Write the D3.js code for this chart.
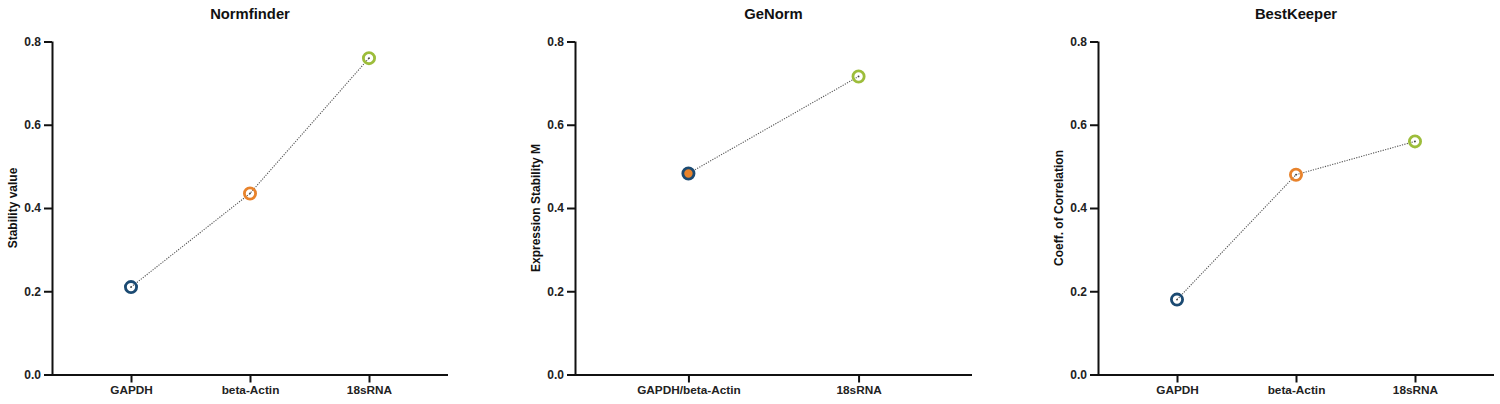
<!DOCTYPE html>
<html><head><meta charset="utf-8">
<script src="https://cdn.jsdelivr.net/npm/d3@7"></script>
<style>
body{margin:0;background:#fff;}
svg{display:block;font-family:"Liberation Sans",Arial,Helvetica,sans-serif;}
</style></head>
<body><svg id="c" width="1500" height="404"></svg>
<script>
// Data
const normfinderCats = ["GAPDH", "beta-Actin", "18sRNA"];
const normfinderVals = [0.21, 0.435, 0.76];
const genormCats = ["GAPDH/beta-Actin", "18sRNA"];
const genormVals = [0.483, 0.716];
const bestkeeperCats = ["GAPDH", "beta-Actin", "18sRNA"];
const bestkeeperVals = [0.18, 0.48, 0.56];
const yTicks = [0.0, 0.2, 0.4, 0.6, 0.8];
const titles = ["Normfinder", "GeNorm", "BestKeeper"];
const yLabels = ["Stability value", "Expression Stability M", "Coeff. of Correlation"];

const NAVY = "#1b4a72", ORANGE = "#e8832c", GREEN = "#9dbd3b";

const panels = [
  {title: titles[0], ylab: yLabels[0], cats: normfinderCats, vals: normfinderVals,
   x0: 52, x1: 448, labX: 13,
   markers: [{stroke: NAVY, fill: "#fff"}, {stroke: ORANGE, fill: "#fff"}, {stroke: GREEN, fill: "#fff"}]},
  {title: titles[1], ylab: yLabels[1], cats: genormCats, vals: genormVals,
   x0: 575, x1: 972, labX: 536,
   markers: [{stroke: NAVY, fill: ORANGE}, {stroke: GREEN, fill: "#fff"}]},
  {title: titles[2], ylab: yLabels[2], cats: bestkeeperCats, vals: bestkeeperVals,
   x0: 1098, x1: 1494, labX: 1059,
   markers: [{stroke: NAVY, fill: "#fff"}, {stroke: ORANGE, fill: "#fff"}, {stroke: GREEN, fill: "#fff"}]}
];

const svg = d3.select("#c");
const yTop = 41.5, yBot = 374.5;

panels.forEach(p => {
  const g = svg.append("g");
  const y = d3.scaleLinear().domain([0, 0.8]).range([yBot, yTop]);
  const n = p.cats.length;
  const x = d3.scalePoint().domain(p.cats).range([p.x0, p.x1]).padding(n === 3 ? 0.6639 : 0.6667);

  // y axis
  const ya = g.append("g").attr("transform", `translate(${p.x0},0)`)
    .call(d3.axisLeft(y).tickValues(yTicks).tickFormat(d3.format(".1f")).tickSize(8).tickPadding(3));
  ya.select(".domain").attr("stroke", "#111").attr("stroke-width", 2)
    .attr("d", `M0.5,${yTop}V${yBot}`);
  ya.selectAll(".tick line").attr("stroke", "#111").attr("stroke-width", 2);
  ya.selectAll(".tick text").attr("font-size", 12).attr("font-weight", "bold").attr("fill", "#222")
    .attr("font-family", '"Liberation Sans",Arial,sans-serif');

  // x axis
  const xa = g.append("g").attr("transform", `translate(0,${yBot})`)
    .call(d3.axisBottom(x).tickSize(8).tickPadding(3));
  xa.select(".domain").attr("stroke", "#111").attr("stroke-width", 2)
    .attr("d", `M${p.x0 - 0.5},0.5H${p.x1}`);
  xa.selectAll(".tick line").attr("stroke", "#111").attr("stroke-width", 2);
  xa.selectAll(".tick text").attr("font-size", 11.8).attr("font-weight", "bold").attr("fill", "#222")
    .attr("font-family", '"Liberation Sans",Arial,sans-serif');

  // title
  g.append("text").attr("x", (p.x0 + p.x1) / 2).attr("y", 19).attr("text-anchor", "middle")
    .attr("font-size", 14.8).attr("font-weight", "bold").attr("fill", "#111").text(p.title);

  // y label
  g.append("text").attr("transform", `translate(${p.labX + 4},${(yTop + yBot) / 2}) rotate(-90)`)
    .attr("text-anchor", "middle").attr("font-size", 12).attr("font-weight", "bold").attr("fill", "#111")
    .text(p.ylab);

  const pts = p.cats.map((c, i) => ({c, v: p.vals[i], m: p.markers[i]}));

  // dotted connecting line
  g.append("path").datum(pts)
    .attr("d", d3.line().x(d => x(d.c)).y(d => y(d.v)))
    .attr("fill", "none").attr("stroke", "#555").attr("stroke-width", 1.1)
    .attr("stroke-dasharray", "1.2,1.3");

  // markers
  g.selectAll("circle.m").data(pts).join("circle").attr("class", "m")
    .attr("cx", d => x(d.c)).attr("cy", d => y(d.v)).attr("r", 5.6)
    .attr("fill", d => d.m.fill).attr("fill-opacity", d => d.m.fill === "#fff" ? 0 : 1)
    .attr("stroke", d => d.m.stroke).attr("stroke-width", 2.8);
  g.selectAll("circle.c").data(pts.filter(d => d.m.fill === "#fff")).join("circle").attr("class", "c")
    .attr("cx", d => x(d.c)).attr("cy", d => y(d.v)).attr("r", 0.9).attr("fill", "#444");
});
</script></body></html>
